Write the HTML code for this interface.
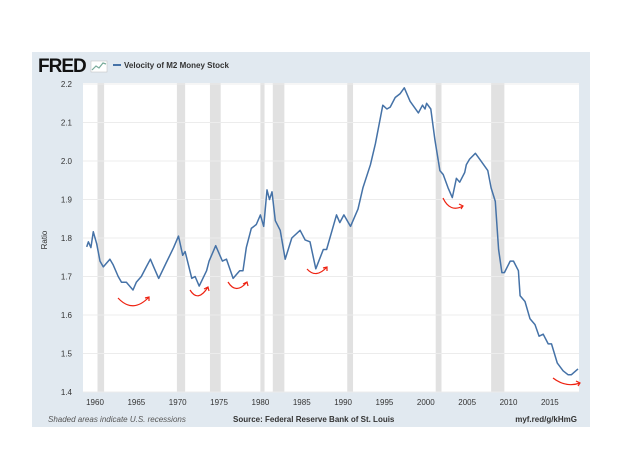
<!DOCTYPE html>
<html><head><meta charset="utf-8"><style>
body{margin:0;width:624px;height:468px;background:#fff;overflow:hidden;font-family:"Liberation Sans",sans-serif}
svg{display:block}
</style></head><body>
<svg width="624" height="468">
<rect x="32" y="52" width="558" height="375" fill="#e1e9f0"/>
<text x="38" y="72" font-size="19" font-weight="bold" fill="#111" letter-spacing="-1">FRED</text>
<g><rect x="91" y="61" width="16" height="11" fill="#fff" stroke="#bbb" stroke-width="0.5"/><polyline points="92,70 96,66 99,68 103,63 106,64" fill="none" stroke="#7a9" stroke-width="1.2"/></g>
<line x1="113" y1="65" x2="121" y2="65" stroke="#4572a7" stroke-width="2"/>
<text x="124" y="68" font-size="8" font-weight="bold" fill="#333">Velocity of M2 Money Stock</text>
<rect x="83" y="83" width="496" height="309" fill="#fff"/>
<g id="rec"></g><g id="grid"></g><g id="ylab"></g><g id="xlab"></g>
<path id="line" fill="none" stroke="#4572a7" stroke-width="1.5" stroke-linejoin="round"/>
<text transform="translate(47,240) rotate(-90)" font-size="8" fill="#333" text-anchor="middle">Ratio</text>
<g fill="none" stroke="#e21" stroke-width="1.2">
<path d="M118,298 Q133,314 149,297 M145,298 L149,297 L149,301"/>
<path d="M190,290 Q198,303 208,287 M204,289 L208,287 L209,291"/>
<path d="M228,282 Q236,295 247,282 M243,284 L247,282 L248,286"/>
<path d="M307,269 Q316,279 327,267 M323,268 L327,267 L327,271"/>
<path d="M443,198 Q450,213 463,206 M459,204 L463,206 L461,209"/>
<path d="M553,378 Q566,388 580,383 M576,381 L580,383 L578,386"/>
</g>
<text x="48" y="422" font-size="8" font-style="italic" fill="#555">Shaded areas indicate U.S. recessions</text>
<text x="233" y="422" font-size="8" font-weight="bold" fill="#333">Source: Federal Reserve Bank of St. Louis</text>
<text x="577" y="422" font-size="8" font-weight="bold" fill="#333" text-anchor="end">myf.red/g/kHmG</text>
</svg>
<script>
const recessions=[[1960.3,1961.1],[1969.9,1970.9],[1973.9,1975.2],[1980.0,1980.5],[1981.5,1982.9],[1990.5,1991.2],[2001.2,2001.9],[2007.9,2009.5]];
const years=[1959.0,1959.2,1959.5,1959.8,1960.2,1960.6,1961,1961.8,1962.2,1962.8,1963.2,1963.8,1964.6,1965,1965.6,1966.2,1966.7,1967.1,1967.7,1968.6,1969.5,1970.1,1970.6,1970.9,1971.7,1972.1,1972.6,1973.5,1973.8,1974.6,1975.4,1975.9,1976.7,1977.5,1977.9,1978.3,1978.9,1979.5,1980,1980.4,1980.8,1981.1,1981.4,1981.8,1982.4,1983,1983.8,1984.8,1985.4,1986,1986.7,1987.6,1988,1989.2,1989.6,1990.1,1990.9,1991.8,1992.4,1993.3,1993.9,1994.8,1995.3,1995.7,1996.3,1996.9,1997.4,1998.1,1999.1,1999.6,1999.9,2000.1,2000.6,2001.1,2001.7,2002.1,2002.7,2003.2,2003.7,2004.1,2004.7,2004.9,2005.3,2006,2006.5,2007.5,2007.9,2008.4,2008.8,2009.2,2009.5,2010.2,2010.6,2011.2,2011.4,2012,2012.6,2013.2,2013.7,2014.2,2014.8,2015.2,2015.9,2016.6,2017.2,2017.6,2018.4];
const values=[1.777,1.79,1.775,1.816,1.785,1.74,1.725,1.745,1.73,1.70,1.685,1.685,1.665,1.685,1.70,1.725,1.745,1.725,1.695,1.735,1.775,1.805,1.755,1.765,1.695,1.70,1.675,1.715,1.74,1.78,1.74,1.745,1.695,1.715,1.715,1.775,1.825,1.835,1.86,1.83,1.925,1.90,1.92,1.845,1.82,1.745,1.80,1.82,1.795,1.79,1.72,1.77,1.77,1.86,1.84,1.86,1.83,1.875,1.93,1.99,2.045,2.145,2.135,2.14,2.165,2.175,2.19,2.155,2.125,2.145,2.135,2.15,2.135,2.055,1.975,1.965,1.93,1.905,1.955,1.945,1.97,1.99,2.005,2.02,2.005,1.975,1.93,1.895,1.77,1.71,1.71,1.74,1.74,1.715,1.65,1.635,1.59,1.575,1.545,1.55,1.525,1.525,1.475,1.455,1.445,1.445,1.46];
const yTicks=[1.4,1.5,1.6,1.7,1.8,1.9,2.0,2.1,2.2];
const xTicks=[1960,1965,1970,1975,1980,1985,1990,1995,2000,2005,2010,2015];
const X=y=>95+(y-1960)*8.27;
const Y=v=>392-(v-1.4)*385;
const NS='http://www.w3.org/2000/svg';
function mk(t,a,p){const e=document.createElementNS(NS,t);for(const k in a)e.setAttribute(k,a[k]);document.getElementById(p).appendChild(e);return e;}
recessions.forEach(r=>{const e=mk('rect',{x:X(r[0]),y:83,width:X(r[1])-X(r[0]),height:309,fill:'#e1e1e1'},'rec');

});
yTicks.forEach(t=>{const l=mk('line',{x1:83,x2:579,y1:Y(t),y2:Y(t),stroke:'#ececec','stroke-width':1},'grid');


const tx=mk('text',{x:72,y:Y(t)+3,'font-size':8,'text-anchor':'end',fill:'#333'},'ylab');tx.textContent=t.toFixed(1);

});
xTicks.forEach(t=>{const tx=mk('text',{x:X(t),y:405,'font-size':8,'text-anchor':'middle',fill:'#333'},'xlab');tx.textContent=t;

});
const ln=document.getElementById('line');
ln.setAttribute('d',years.map((y,i)=>(i?'L':'M')+X(y).toFixed(1)+','+Y(values[i]).toFixed(1)).join(' '));


</script>
</body></html>
